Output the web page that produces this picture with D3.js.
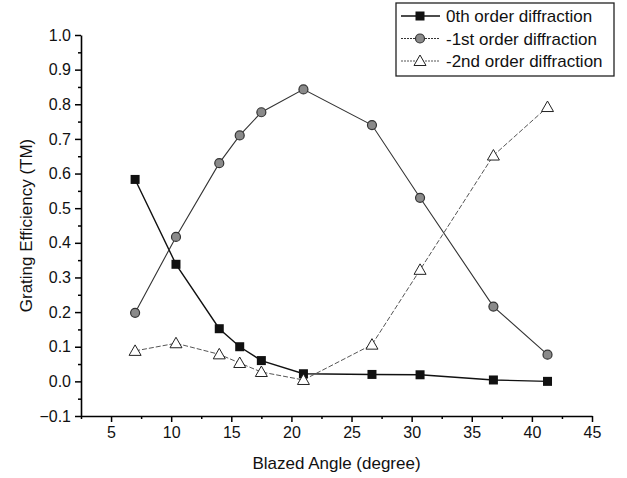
<!DOCTYPE html>
<html>
<head>
<meta charset="utf-8">
<script src="https://cdn.jsdelivr.net/npm/d3@7"></script>
<style>
  body { margin: 0; background: #fff; }
  svg { font-family: "Liberation Sans", Arial, sans-serif; }
  .tick text { font-size: 16px; fill: #111; }
</style>
</head>
<body>
<svg width="627" height="478"></svg>
<script>
  // blazed angle (degree)
  const angles = [7, 10.4, 14, 15.7, 17.5, 21, 26.7, 30.7, 36.8, 41.3];
  // grating efficiency (TM)
  const order0 = [0.583, 0.338, 0.152, 0.100, 0.060, 0.022, 0.020, 0.019, 0.004, 0.000];
  const order1 = [0.198, 0.417, 0.630, 0.710, 0.777, 0.843, 0.740, 0.530, 0.216, 0.077];
  const order2 = [0.088, 0.110, 0.078, 0.053, 0.027, 0.004, 0.106, 0.322, 0.652, 0.792];
  const seriesNames = ['0th order diffraction', '-1st order diffraction', '-2nd order diffraction'];
  const xTicks = [5, 10, 15, 20, 25, 30, 35, 40, 45];
  const yTicks = [-0.1, 0, 0.1, 0.2, 0.3, 0.4, 0.5, 0.6, 0.7, 0.8, 0.9, 1.0];

  const svg = d3.select('svg');
  const margin = { top: 35, right: 35, bottom: 62, left: 81 };
  const width = +svg.attr('width');
  const height = +svg.attr('height');
  const innerWidth = width - margin.left - margin.right;
  const innerHeight = height - margin.top - margin.bottom;

  const xScale = d3.scaleLinear().domain([2.5, 45]).range([0, innerWidth]);
  const yScale = d3.scaleLinear().domain([-0.1, 1.0]).range([innerHeight, 0]);

  const g = svg.append('g')
    .attr('transform', `translate(${margin.left},${margin.top})`);

  // minor ticks first
  const xMinor = d3.range(2.5, 45.01, 2.5).filter(v => v % 5 !== 0);
  const yMinor = d3.range(-0.05, 1.0, 0.1);

  g.append('g')
    .attr('transform', `translate(0,${innerHeight})`)
    .call(d3.axisBottom(xScale).tickValues(xMinor).tickSize(3).tickFormat(''))
    .call(a => a.select('.domain').remove())
    .selectAll('line').attr('stroke-width', 1.5);

  g.append('g')
    .call(d3.axisLeft(yScale).tickValues(yMinor).tickSize(3).tickFormat(''))
    .call(a => a.select('.domain').remove())
    .selectAll('line').attr('stroke-width', 1.5);

  const xAxisG = g.append('g')
    .attr('transform', `translate(0,${innerHeight})`)
    .call(d3.axisBottom(xScale).tickValues(xTicks).tickSize(6).tickSizeOuter(0).tickPadding(5));
  xAxisG.select('.domain').attr('stroke-width', 1.6);
  xAxisG.selectAll('.tick line').attr('stroke-width', 1.5);

  const yAxisG = g.append('g')
    .call(d3.axisLeft(yScale).tickValues(yTicks).tickSize(6).tickSizeOuter(0).tickPadding(4)
      .tickFormat(d3.format('.1f')));
  yAxisG.select('.domain').attr('stroke-width', 1.6);
  yAxisG.selectAll('.tick line').attr('stroke-width', 1.5);

  // axis titles
  xAxisG.append('text')
    .attr('x', innerWidth / 2)
    .attr('y', 53)
    .attr('fill', '#111')
    .attr('font-size', 17)
    .attr('text-anchor', 'middle')
    .text('Blazed Angle (degree)');

  yAxisG.append('text')
    .attr('transform', 'rotate(-90)')
    .attr('x', -innerHeight / 2)
    .attr('y', -49)
    .attr('fill', '#111')
    .attr('font-size', 17)
    .attr('text-anchor', 'middle')
    .text('Grating Efficiency (TM)');

  const series = [
    { name: seriesNames[0], values: order0, stroke: '#111', width: 1.4, dash: null, marker: 'square' },
    { name: seriesNames[1], values: order1, stroke: '#333', width: 1.1, dash: null, marker: 'circle' },
    { name: seriesNames[2], values: order2, stroke: '#555', width: 1, dash: '5,2', marker: 'triangle' }
  ];

  const line = d3.line()
    .x((d, i) => xScale(angles[i]))
    .y(d => yScale(d));

  const drawMarker = (sel, type) => {
    if (type === 'square') {
      sel.append('rect')
        .attr('x', -4.5).attr('y', -4.5)
        .attr('width', 9).attr('height', 9)
        .attr('fill', '#111');
    } else if (type === 'circle') {
      sel.append('circle')
        .attr('r', 4.5)
        .attr('fill', '#8a8a8a')
        .attr('stroke', '#333')
        .attr('stroke-width', 1.2);
    } else {
      sel.append('path')
        .attr('d', 'M0,-6 L6,4.5 L-6,4.5 Z')
        .attr('fill', '#fff')
        .attr('stroke', '#222')
        .attr('stroke-width', 1);
    }
  };

  series.forEach(s => {
    g.append('path')
      .datum(s.values)
      .attr('fill', 'none')
      .attr('stroke', s.stroke)
      .attr('stroke-width', s.width)
      .attr('stroke-dasharray', s.dash)
      .attr('d', line);
  });

  series.forEach(s => {
    g.selectAll(null).data(s.values)
      .enter().append('g')
        .attr('transform', (d, i) => `translate(${xScale(angles[i])},${yScale(d)})`)
        .each(function () { drawMarker(d3.select(this), s.marker); });
  });

  // legend
  const legend = svg.append('g').attr('transform', 'translate(396,3)');
  legend.append('rect')
    .attr('width', 218).attr('height', 73)
    .attr('fill', '#fff')
    .attr('stroke', '#222')
    .attr('stroke-width', 1.3);

  series.forEach((s, i) => {
    const row = legend.append('g').attr('transform', `translate(0,${13 + i * 22.5})`);
    row.append('line')
      .attr('x1', 5).attr('x2', 44)
      .attr('stroke', s.stroke)
      .attr('stroke-width', s.width)
      .attr('stroke-dasharray', i === 0 ? null : '2,1');
    drawMarker(row.append('g').attr('transform', 'translate(24,0)'), s.marker);
    row.append('text')
      .attr('x', 50)
      .attr('y', 6)
      .attr('font-size', 17)
      .attr('fill', '#111')
      .text(s.name);
  });
</script>
</body>
</html>
